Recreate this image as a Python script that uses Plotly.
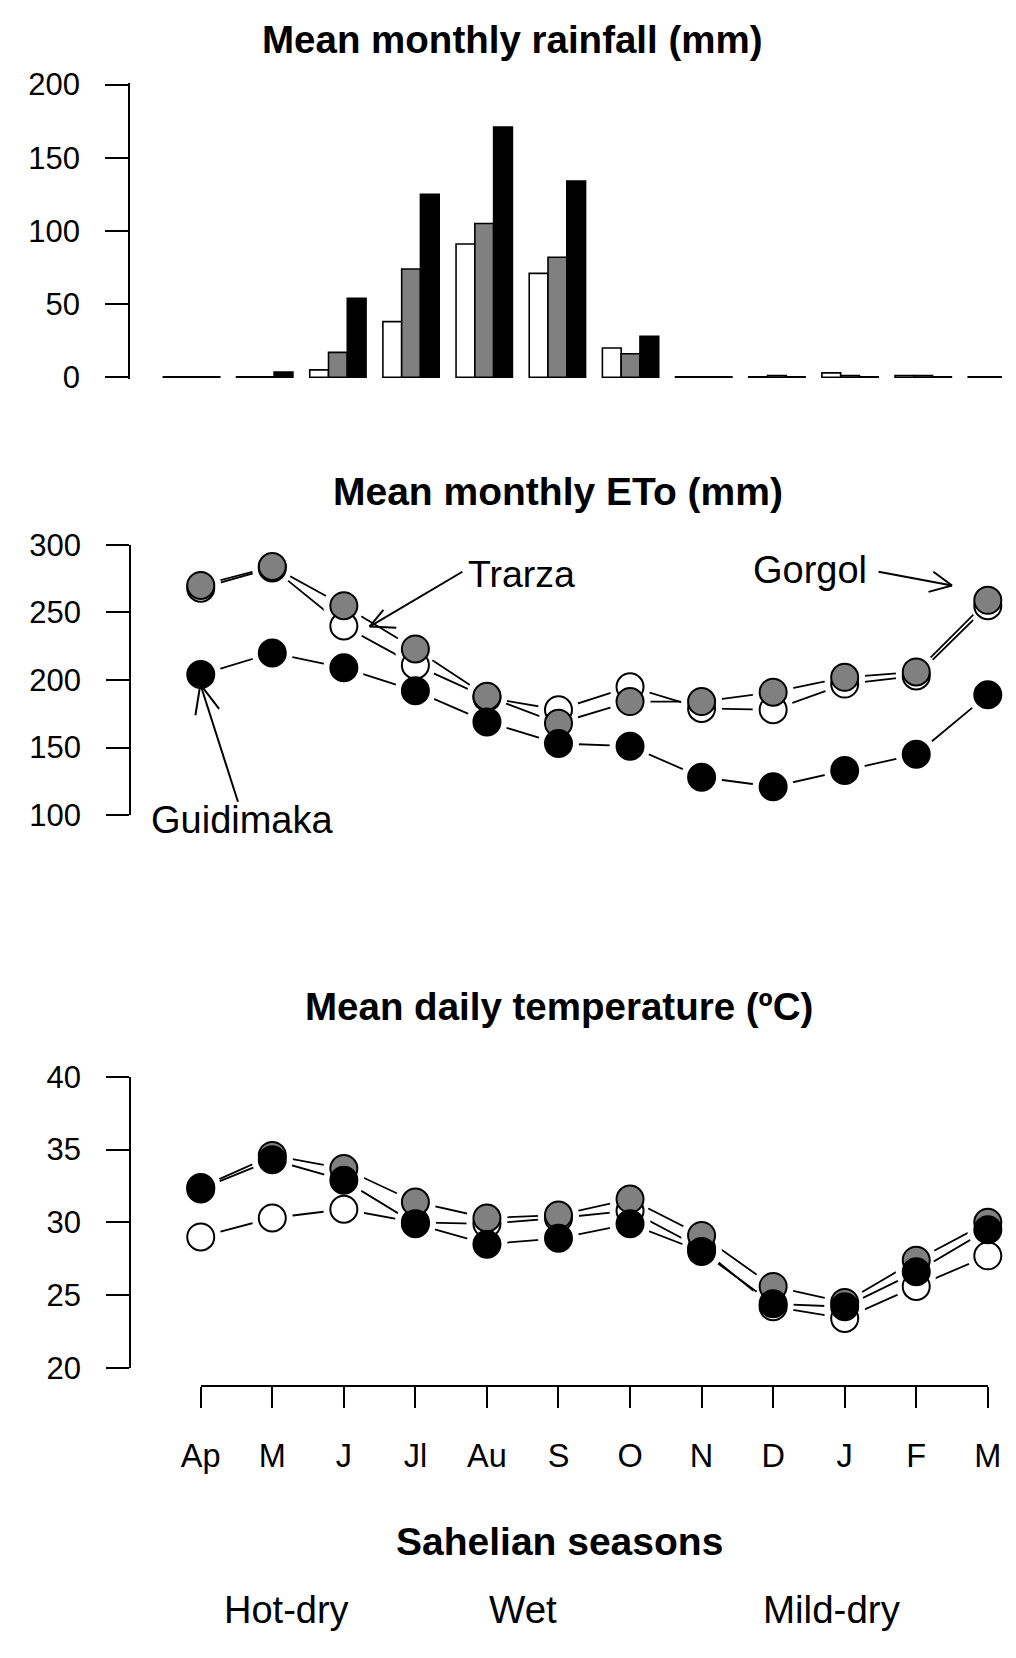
import plotly.graph_objects as go

W, H = 1016, 1658

# ---------------- data ----------------
months = ["Ap", "M", "J", "Jl", "Au", "S", "O", "N", "D", "J", "F", "M"]
month_idx = list(range(12))

rain_trarza = [0.3, 0.3, 5, 38, 91, 71, 20, 0.3, 0.3, 3, 1.2, 0.3]
rain_gorgol = [0.3, 0.3, 17, 74, 105, 82, 16, 0.3, 1.2, 1.2, 1.2, 0.3]
rain_guidimaka = [0.3, 3.5, 54, 125, 171, 134, 28, 0.3, 0.3, 0.3, 0.3, 0.3]

eto_trarza = [268, 283, 240, 211, 187, 178, 195, 179, 178, 197, 203, 255]
eto_gorgol = [270, 284, 255, 223, 188, 168, 184, 184, 191, 202, 206, 259]
eto_guidimaka = [204, 220, 209, 192, 169, 153, 151, 128, 121, 133, 145, 189]

temp_trarza = [29.0, 30.3, 30.9, 30.0, 29.9, 30.3, 30.8, 28.2, 24.2, 23.4, 25.6, 27.7]
temp_gorgol = [32.4, 34.6, 33.7, 31.4, 30.3, 30.5, 31.6, 29.1, 25.6, 24.5, 27.4, 30.0]
temp_guidimaka = [32.3, 34.3, 32.9, 29.9, 28.5, 28.9, 29.9, 28.0, 24.4, 24.2, 26.6, 29.5]

rain_ticks = [0, 50, 100, 150, 200]
eto_ticks = [100, 150, 200, 250, 300]
temp_ticks = [20, 25, 30, 35, 40]

series_names = ["Trarza", "Gorgol", "Guidimaka"]
fills = ["white", "#808080", "black"]

FONT = "Liberation Sans, Arial, Helvetica, sans-serif"


def X(px):
    return px / W


def Y(py):
    return 1 - py / H


fig = go.Figure()

# ---------------- rainfall bars ----------------
for name, vals, col in zip(series_names, [rain_trarza, rain_gorgol, rain_guidimaka], fills):
    fig.add_trace(go.Bar(
        x=month_idx, y=vals, name=name, xaxis="x", yaxis="y",
        marker=dict(color=col, line=dict(color="black", width=1.6)),
        showlegend=False, hoverinfo="skip"))


# ---------------- line panels ----------------
def add_lines(xa, ya, series):
    # lines with a white gap around their own points (R type="b")
    for vals in series:
        fig.add_trace(go.Scatter(
            x=month_idx, y=vals, mode="lines", xaxis=xa, yaxis=ya,
            line=dict(color="black", width=1.8), cliponaxis=False,
            showlegend=False, hoverinfo="skip"))
        fig.add_trace(go.Scatter(
            x=month_idx, y=vals, mode="markers", xaxis=xa, yaxis=ya,
            marker=dict(color="white", size=41, line=dict(width=0)),
            cliponaxis=False, showlegend=False, hoverinfo="skip"))
    for vals, col in zip(series, fills):
        fig.add_trace(go.Scatter(
            x=month_idx, y=vals, mode="markers", xaxis=xa, yaxis=ya,
            marker=dict(color=col, size=27, line=dict(color="black", width=2)),
            cliponaxis=False, showlegend=False, hoverinfo="skip"))


add_lines("x2", "y2", [eto_trarza, eto_gorgol, eto_guidimaka])
add_lines("x3", "y3", [temp_trarza, temp_gorgol, temp_guidimaka])

# ---------------- axes ----------------
tickfont = dict(family=FONT, size=31, color="black")
ycommon = dict(ticks="outside", ticklen=23, tickwidth=2, tickcolor="black",
               showline=True, linewidth=2, linecolor="black", showgrid=False,
               zeroline=False, tickfont=tickfont, ticklabelstandoff=19,
               fixedrange=True)

# top panel geometry (pixels)
bar_c0, bar_pitch = 177.5, 75.7
r_px_per = (368 - 69) / 200.0
fig.update_layout(
    xaxis=dict(domain=[X(114), 1.0],
               range=[(114 - bar_c0) / bar_pitch, (1016 - bar_c0) / bar_pitch],
               visible=False, fixedrange=True),
    yaxis=dict(domain=[Y(368 + r_px_per), Y(69 - r_px_per)], range=[-1, 201],
               anchor="x", tickvals=rain_ticks, **ycommon),
    bargap=0.23, bargroupgap=0, barmode="group",
)

# shared x geometry for the two line panels
xl, xr = 187.0, 1001.3
fig.update_layout(
    xaxis2=dict(domain=[X(xl), X(xr)], range=[0, 11], visible=False,
                anchor="y2", fixedrange=True),
    yaxis2=dict(domain=[Y(815.3), Y(539.3)], range=[100, 300], anchor="free",
                position=X(114), tickvals=eto_ticks, **ycommon),
    xaxis3=dict(domain=[X(xl), X(xr)], range=[0, 11], anchor="free",
                position=Y(1398.3), tickvals=month_idx, ticktext=months,
                ticks="outside", ticklen=21, tickwidth=2, tickcolor="black",
                showline=True, linewidth=2, linecolor="black",
                showgrid=False, zeroline=False, tickangle=0, fixedrange=True,
                tickfont=dict(family=FONT, size=32.5, color="black"),
                ticklabelstandoff=20),
    yaxis3=dict(domain=[Y(1380), Y(1082.7)], range=[20, 40], anchor="free",
                position=X(114), tickvals=temp_ticks, **ycommon),
)

# ---------------- text ----------------
ann = []


def text(t, px, py, size, bold=False):
    ann.append(dict(
        text=f"<b>{t}</b>" if bold else t, x=X(px), y=Y(py),
        xref="paper", yref="paper", xanchor="center", yanchor="middle",
        showarrow=False, font=dict(family=FONT, size=size, color="black")))


text("Mean monthly rainfall (mm)", 510, 23, 38.5, bold=True)
text("Mean monthly ETo (mm)", 557, 485, 39, bold=True)
text("Mean daily temperature (ºC)", 558, 1011, 38.5, bold=True)
text("Sahelian seasons", 558, 1557, 39, bold=True)
text("Hot-dry", 276, 1627, 38)
text("Wet", 520, 1627, 38.5)
text("Mild-dry", 840, 1627, 38.5)
text("Trarza", 519, 569, 37.5)
text("Gorgol", 817, 565, 38)
text("Guidimaka", 230, 820, 38)

# arrows (shaft + open head) in pixel positions
arrows = [
    ((457.7, 566.7), (361.7, 622.7), [(376, 605.7), (389.3, 624)]),
    ((888.3, 566.7), (964.3, 580.7), [(945, 566.7), (940, 587.3)]),
    ((225.5, 801.7), (186.6, 681.7), [(181.5, 713.3), (206, 706.7)]),
]
shapes = []
for tail, head, wings in arrows:
    for a in [tail] + wings:
        shapes.append(dict(type="line", xref="paper", yref="paper",
                           x0=X(a[0]), y0=Y(a[1]), x1=X(head[0]), y1=Y(head[1]),
                           line=dict(color="black", width=2)))

fig.update_layout(
    width=W, height=H, margin=dict(l=0, r=0, t=0, b=0),
    paper_bgcolor="white", plot_bgcolor="rgba(0,0,0,0)",
    annotations=ann, shapes=shapes, showlegend=False,
    font=dict(family=FONT, color="black"),
)

fig.write_html("out.html", config={"displayModeBar": False})
